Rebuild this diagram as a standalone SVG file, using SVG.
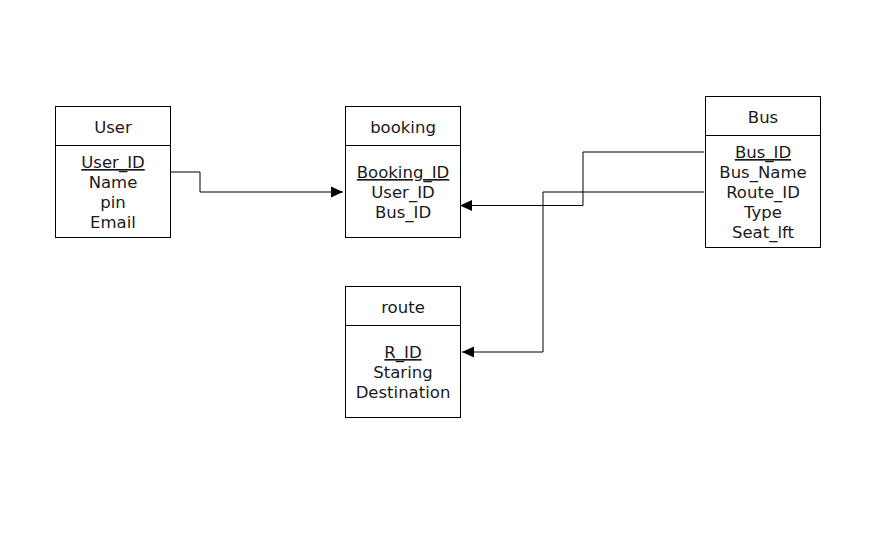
<svg xmlns="http://www.w3.org/2000/svg" width="889" height="533" viewBox="0 0 889 533">
<defs>
<style>
.box{fill:#fff;stroke:#000;stroke-width:1}
.t{font-family:"DejaVu Sans",Verdana,sans-serif;font-size:16.5px;fill:#1a1a1a;text-anchor:middle}
.u{text-decoration:underline}
.c{fill:none;stroke:#000;stroke-width:1}
</style>
<marker id="arr" markerUnits="userSpaceOnUse" markerWidth="13" markerHeight="12" refX="12" refY="6" orient="auto">
<path d="M0,0.5 L12,6 L0,11.5 Z" fill="#000"/>
</marker>
</defs>
<rect width="889" height="533" fill="#fff"/>
<g id="connectors">
<path class="c" d="M171,172 H200 V192 H343" marker-end="url(#arr)"/>
<path class="c" d="M704,152 H583 V205.5 H460" marker-end="url(#arr)"/>
<path class="c" d="M704,192 H543 V352 H462" marker-end="url(#arr)"/>
</g>
<g id="user">
<rect class="box" x="55.5" y="106.5" width="115" height="131"/>
<line class="c" x1="55.5" y1="145.5" x2="170.5" y2="145.5"/>
<text class="t" x="113" y="133">User</text>
<text class="t u" x="113" y="168">User_ID</text>
<text class="t" x="113" y="188">Name</text>
<text class="t" x="113" y="208">pin</text>
<text class="t" x="113" y="228">Email</text>
</g>
<g id="booking">
<rect class="box" x="345.5" y="106.5" width="115" height="131"/>
<line class="c" x1="345.5" y1="145.5" x2="460.5" y2="145.5"/>
<text class="t" x="403" y="133">booking</text>
<text class="t u" x="403" y="178">Booking_ID</text>
<text class="t" x="403" y="198">User_ID</text>
<text class="t" x="403" y="218">Bus_ID</text>
</g>
<g id="bus">
<rect class="box" x="705.5" y="96.5" width="115" height="151"/>
<line class="c" x1="705.5" y1="135.5" x2="820.5" y2="135.5"/>
<text class="t" x="763" y="123">Bus</text>
<text class="t u" x="763" y="158">Bus_ID</text>
<text class="t" x="763" y="178">Bus_Name</text>
<text class="t" x="763" y="198">Route_ID</text>
<text class="t" x="763" y="218">Type</text>
<text class="t" x="763" y="238">Seat_lft</text>
</g>
<g id="route">
<rect class="box" x="345.5" y="286.5" width="115" height="131"/>
<line class="c" x1="345.5" y1="325.5" x2="460.5" y2="325.5"/>
<text class="t" x="403" y="313">route</text>
<text class="t u" x="403" y="358">R_ID</text>
<text class="t" x="403" y="378">Staring</text>
<text class="t" x="403" y="398">Destination</text>
</g>
</svg>
